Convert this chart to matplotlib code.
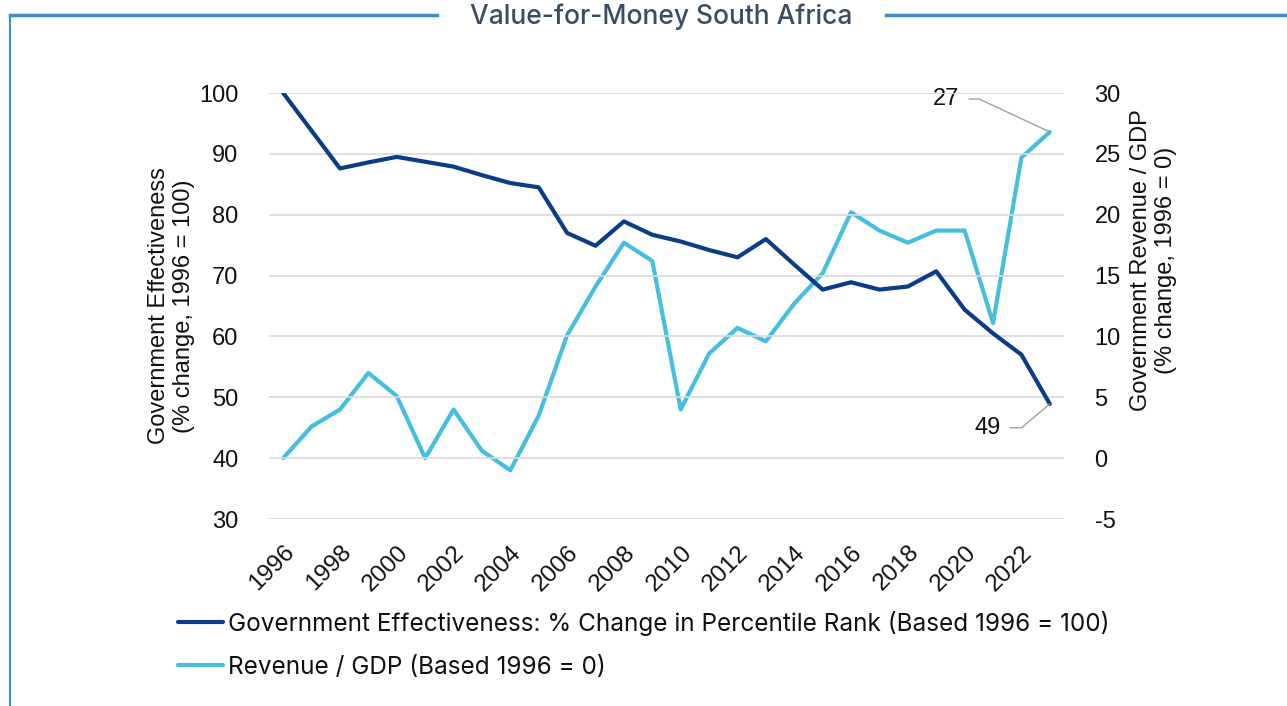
import matplotlib.pyplot as plt
import numpy as np

years = list(range(1996, 2024))
gov_effectiveness = [100, 93.8, 87.6, 88.6, 89.5, 88.7, 87.9, 86.5, 85.2, 84.5,
                     77.0, 74.9, 78.9, 76.7, 75.6, 74.2, 73.0, 76.0, 71.8, 67.7,
                     68.9, 67.7, 68.2, 70.7, 64.4, 60.5, 57.0, 48.9]
revenue_gdp = [0, 2.6, 4.0, 7.0, 5.1, 0, 4.0, 0.6, -1.0, 3.5,
               10.1, 14.1, 17.7, 16.2, 4.0, 8.6, 10.7, 9.6, 12.7, 15.2,
               20.2, 18.7, 17.7, 18.7, 18.7, 11.1, 24.7, 26.8]
tick_years = list(range(1996, 2023, 2))

DARK = "#0b3d87"
LIGHT = "#45bfdf"
FRAME = "#3a8fc0"
TXT = "#111111"

plt.rcParams["font.family"] = ["Liberation Sans", "DejaVu Sans"]
plt.rcParams["axes.unicode_minus"] = False

fig = plt.figure(figsize=(12.87, 7.06), dpi=100)
ax = fig.add_axes([269 / 1287, 1 - 519 / 706, 795 / 1287, 426 / 706])
ax2 = ax.twinx()

l1, = ax.plot(years, gov_effectiveness, color=DARK, lw=3, solid_capstyle="round", zorder=3)
l2, = ax2.plot(years, revenue_gdp, color=LIGHT, lw=3, solid_capstyle="round", zorder=3)

ax.set_xlim(1995.5, 2023.5)
ax.set_ylim(30, 100)
ax2.set_ylim(-5, 30)
ax.set_yticks(np.arange(30, 101, 10))
ax2.set_yticks(np.arange(-5, 31, 5))
ax.set_xticks(tick_years)
ax.set_xticklabels([str(y) for y in tick_years], rotation=45, ha="right",
                   rotation_mode="anchor", fontsize=17.5, color=TXT)
ax.tick_params(axis="x", length=0, pad=16)
ax.tick_params(axis="y", length=0, pad=22, labelsize=17, labelcolor=TXT)
ax2.tick_params(axis="y", length=0, pad=22, labelsize=17, labelcolor=TXT)
ax.grid(axis="y", color="#d9d9d9", lw=1.2)
ax.set_axisbelow(True)
for a in (ax, ax2):
    for s in a.spines.values():
        s.set_visible(False)
ax.set_zorder(ax2.get_zorder() + 1)
ax.patch.set_visible(False)

ax.set_ylabel("Government Effectiveness\n(% change, 1996 = 100)", fontsize=17,
              color=TXT, linespacing=1.2)
ax.yaxis.set_label_coords(-0.093, 0.5)
ax2.set_ylabel("Government Revenue / GDP\n(% change, 1996 = 0)", fontsize=17,
               color=TXT, linespacing=1.2)
ax2.yaxis.set_label_coords(1.083, 0.608)

# end-point labels
ax2.annotate(f"{revenue_gdp[-1]:.0f}", xy=(years[-1], revenue_gdp[-1]),
             xytext=(2019.35, 29.5), fontsize=17, color=TXT, ha="center", va="center",
             arrowprops=dict(arrowstyle="-", color="#a0a0a0", lw=1,
                             connectionstyle="angle,angleA=0,angleB=-25,rad=0",
                             shrinkA=5, shrinkB=0))
ax.annotate(f"{gov_effectiveness[-1]:.0f}", xy=(years[-1], gov_effectiveness[-1]),
            xytext=(2020.8, 45.0), fontsize=17, color=TXT, ha="center", va="center",
            arrowprops=dict(arrowstyle="-", color="#a0a0a0", lw=1,
                            connectionstyle="angle,angleA=0,angleB=40,rad=0",
                            shrinkA=5, shrinkB=0))

fig.legend([l1, l2],
           ["Government Effectiveness: % Change in Percentile Rank (Based 1996 = 100)",
            "Revenue / GDP (Based 1996 = 0)"],
           loc="upper left", bbox_to_anchor=(156 / 1287, 1 - 589 / 706),
           frameon=False, handlelength=1.85, handletextpad=0.2,
           labelspacing=0.82, labelcolor=TXT,
           prop={"family": "Inter", "size": 17.5})

# frame and title
fig.add_artist(plt.Line2D([10 / 1287, 437 / 1287], [1 - 15 / 706] * 2, color=FRAME, lw=2.5))
fig.add_artist(plt.Line2D([886 / 1287, 1.0], [1 - 15 / 706] * 2, color=FRAME, lw=2.5))
fig.add_artist(plt.Line2D([10 / 1287] * 2, [0, 1 - 15 / 706], color=FRAME, lw=1.5))
fig.text(661 / 1287, 1 - 17 / 706, "Value-for-Money South Africa", fontsize=19,
         fontfamily="Inter", fontweight="medium", color="#3b4d63", ha="center", va="center")

fig.savefig("out.png", dpi=100)
